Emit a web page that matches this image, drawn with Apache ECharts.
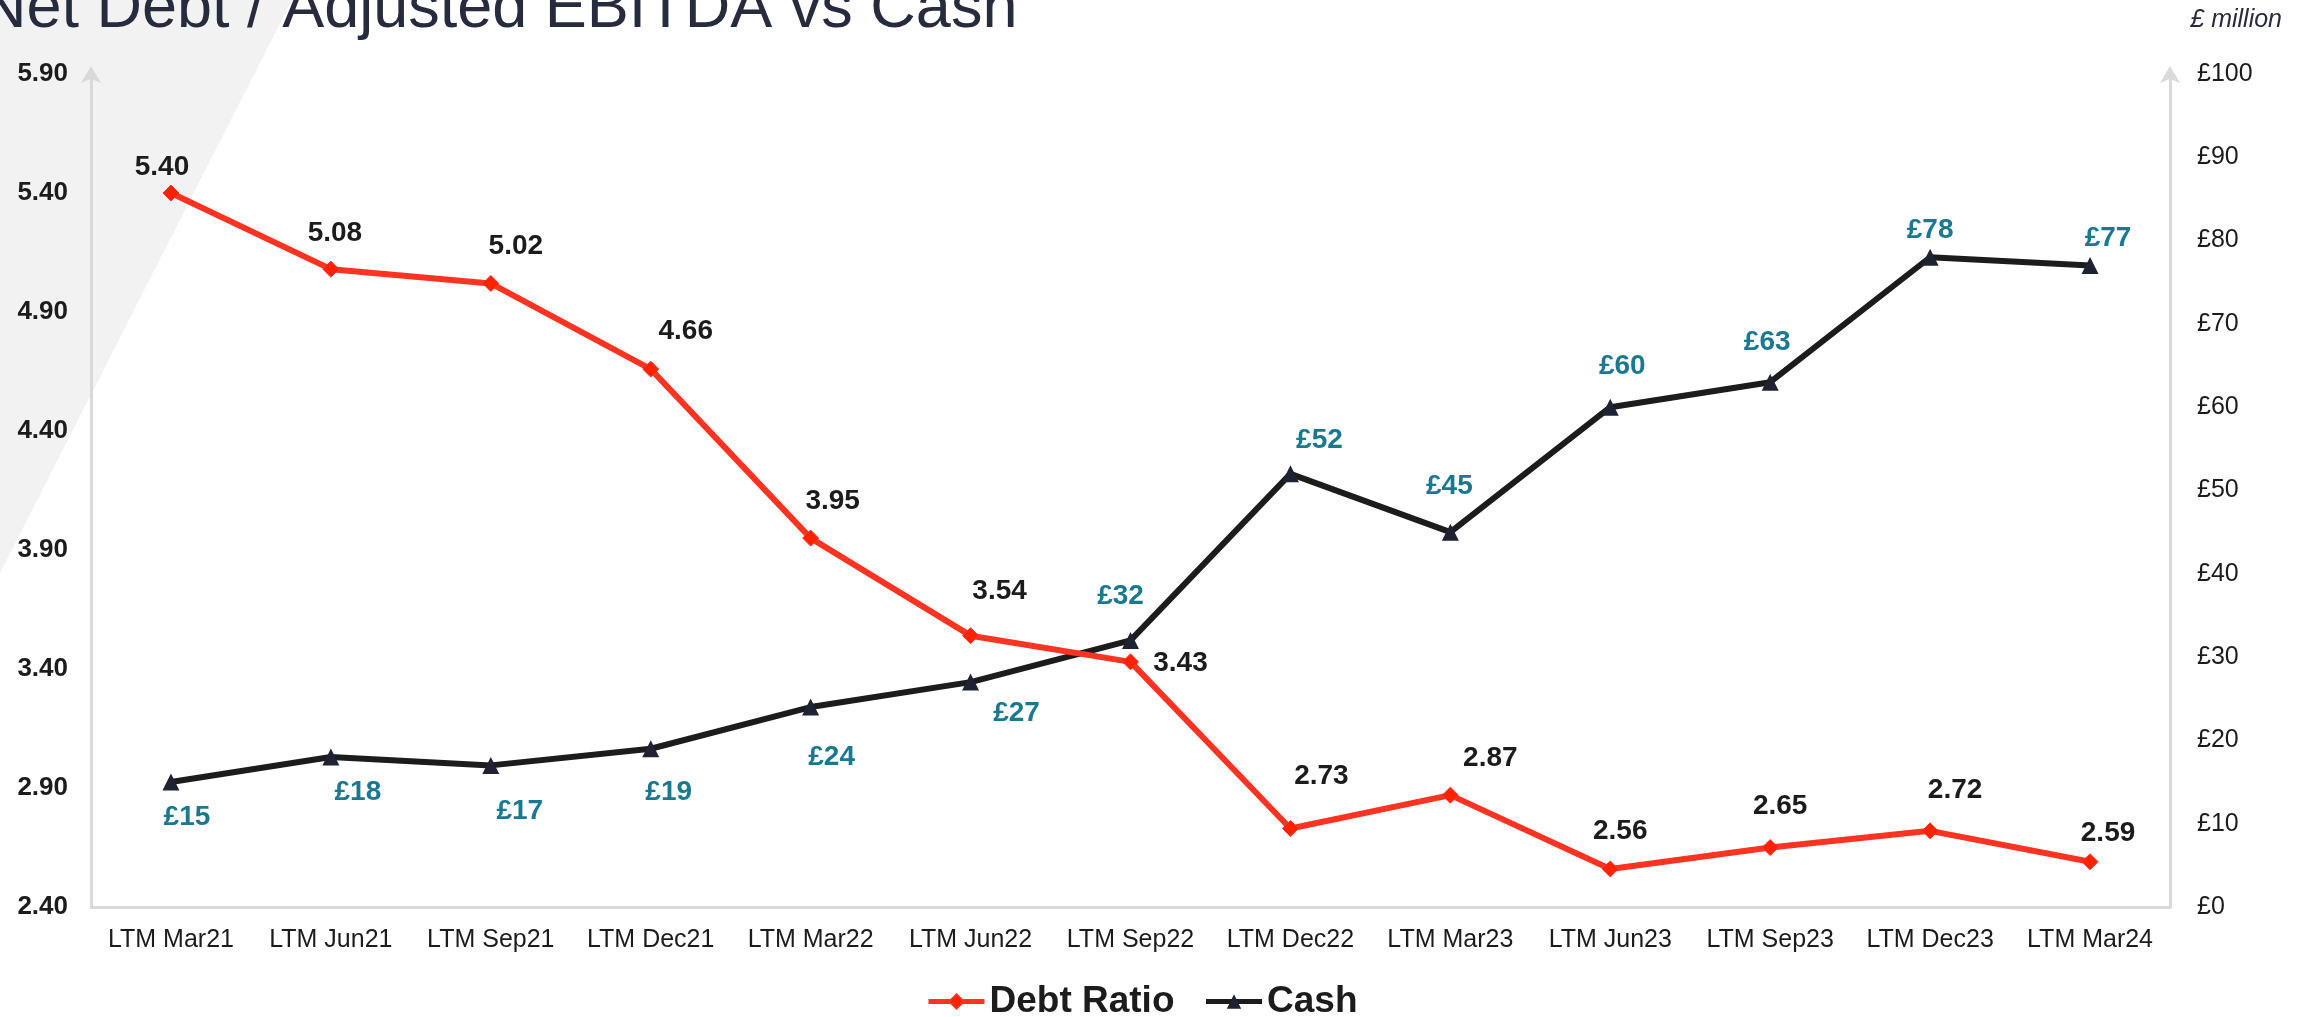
<!DOCTYPE html>
<html>
<head>
<meta charset="utf-8">
<script src="https://cdn.jsdelivr.net/npm/echarts@6/dist/echarts.min.js"></script>
<style>
  html, body { margin: 0; padding: 0; background: #fff; }
  #chart { width: 2310px; height: 1017px; }
</style>
</head>
<body>
<div id="chart"></div>
<script>
// data
const periods = ['LTM Mar21', 'LTM Jun21', 'LTM Sep21', 'LTM Dec21', 'LTM Mar22', 'LTM Jun22', 'LTM Sep22',
  'LTM Dec22', 'LTM Mar23', 'LTM Jun23', 'LTM Sep23', 'LTM Dec23', 'LTM Mar24'];
const debtRatio = [5.40, 5.08, 5.02, 4.66, 3.95, 3.54, 3.43, 2.73, 2.87, 2.56, 2.65, 2.72, 2.59];
const cash = [15, 18, 17, 19, 24, 27, 32, 52, 45, 60, 63, 78, 77];
const ratioTicks = [2.40, 2.90, 3.40, 3.90, 4.40, 4.90, 5.40, 5.90];

// where each value label sits relative to its point (px)
const debtLabelPos = [[-9, -26], [4, -36], [25, -37], [35, -38], [22, -37], [29, -44], [50, 1],
  [31, -52], [40, -37], [10, -38], [10, -41], [25, -41], [18, -28]];
const cashLabelPos = [[16, 35], [27, 35], [29, 46], [18, 44], [21, 50], [46, 31], [-10, -44],
  [29, -34], [-1, -46], [12, -41], [-3, -40], [0, -27], [18, -27]];

const font = 'Liberation Sans, Arial, sans-serif';
const axisGrey = '#d9d9d9';
const red = '#ff3322';
const dark = '#1c1c1c';
const teal = '#1a7891';

const chart = echarts.init(document.getElementById('chart'));

const option = {
  animation: false,
  backgroundColor: '#fff',
  title: {
    text: 'Net Debt / Adjusted EBITDA vs Cash',
    left: -24,
    top: -27,
    textStyle: { fontFamily: font, fontSize: 63, fontWeight: 'normal', color: '#262b3e' }
  },
  graphic: [{
    type: 'polygon',
    z: -10,
    silent: true,
    shape: { points: [[0, 0], [292, 0], [0, 573]] },
    style: { fill: '#f2f2f2' }
  }, {
    type: 'text',
    right: 28,
    top: 8,
    style: { text: '£ million', font: 'italic 25px ' + font, fill: '#262b3e' }
  }],
  legend: {
    left: 921,
    top: 978,
    itemWidth: 56,
    itemHeight: 18,
    itemGap: 29,
    lineStyle: { width: 5 },
    textStyle: { fontFamily: font, fontSize: 37, fontWeight: 'bold', color: dark },
    data: ['Debt Ratio', 'Cash']
  },
  grid: { left: 91, right: 140, top: 74, bottom: 110 },
  xAxis: {
    type: 'category',
    data: periods,
    boundaryGap: true,
    axisLine: { lineStyle: { color: axisGrey, width: 3 } },
    axisTick: { show: false },
    axisLabel: { fontFamily: font, fontSize: 25, color: dark, margin: 21, interval: 0 }
  },
  yAxis: [{
    type: 'value',
    min: 2.4,
    max: 5.9,
    splitLine: { show: false },
    axisTick: { show: false },
    axisLine: {
      show: true,
      symbol: ['none', 'arrow'],
      symbolSize: [15, 17],
      symbolOffset: [0, 8],
      lineStyle: { color: axisGrey, width: 3 }
    },
    axisLabel: {
      customValues: ratioTicks,
      fontFamily: font, fontSize: 26, fontWeight: 'bold', color: dark, margin: 23,
      formatter: v => v.toFixed(2)
    }
  }, {
    type: 'value',
    min: 0,
    max: 100,
    interval: 10,
    position: 'right',
    splitLine: { show: false },
    axisTick: { show: false },
    axisLine: {
      show: true,
      symbol: ['none', 'arrow'],
      symbolSize: [15, 17],
      symbolOffset: [0, 8],
      lineStyle: { color: axisGrey, width: 3 }
    },
    axisLabel: { fontFamily: font, fontSize: 25, color: dark, margin: 27, formatter: '£{value}' }
  }],
  series: [{
    name: 'Debt Ratio',
    type: 'line',
    yAxisIndex: 0,
    symbol: 'diamond',
    symbolSize: 16,
    itemStyle: { color: '#ff2200', borderColor: red, borderWidth: 1 },
    lineStyle: { color: red, width: 6 },
    z: 3,
    data: debtRatio.map((v, i) => ({
      value: v,
      label: { offset: debtLabelPos[i] }
    })),
    label: {
      show: true,
      position: 'inside',
      fontFamily: font, fontSize: 28, fontWeight: 'bold', color: dark,
      formatter: p => p.value.toFixed(2)
    }
  }, {
    name: 'Cash',
    type: 'line',
    yAxisIndex: 1,
    symbol: 'triangle',
    symbolSize: 17,
    itemStyle: { color: '#1f2233' },
    lineStyle: { color: dark, width: 6 },
    z: 2,
    data: cash.map((v, i) => ({
      value: v,
      label: { offset: cashLabelPos[i] }
    })),
    label: {
      show: true,
      position: 'inside',
      fontFamily: font, fontSize: 28, fontWeight: 'bold', color: teal,
      formatter: p => '£' + p.value
    }
  }]
};

chart.setOption(option);
</script>
</body>
</html>
